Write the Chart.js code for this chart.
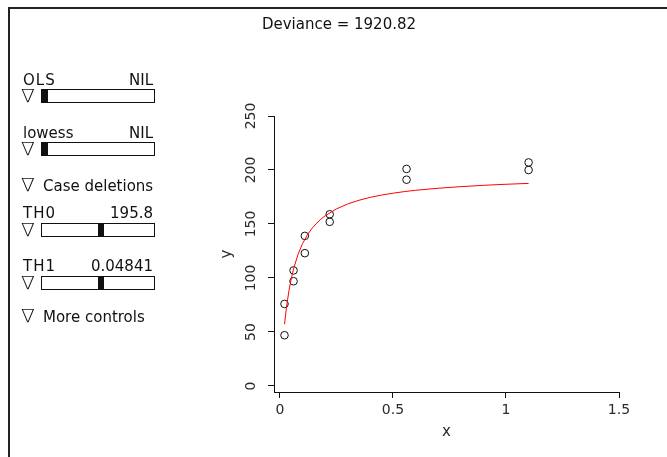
<!DOCTYPE html>
<html>
<head>
<meta charset="utf-8">
<script src="https://cdn.jsdelivr.net/npm/chart.js@4"></script>
<style>
  body { margin: 0; background: #fff; }
  #wrap { position: relative; width: 667px; height: 457px; overflow: hidden; font-family: "DejaVu Sans", sans-serif; color: #111; }
  #myChart { position: absolute; left: 0; top: 0; }
  #frame { position: absolute; left: 8px; top: 7px; width: 700px; height: 500px; border-left: 2px solid #222; border-top: 2px solid #222; }
  .t { position: absolute; font-size: 15px; line-height: 15px; white-space: nowrap; }
  .r { text-align: right; }
  .nab { position: absolute; font-size: 18px; line-height: 18px; font-weight: 200; transform: scaleX(1.12); transform-origin: left top; }
  .slider { position: absolute; left: 41px; width: 112px; height: 12px; border: 1px solid #111; background: #fff; }
  .thumb { position: absolute; top: 0; width: 6px; height: 12px; background: #111; }
</style>
</head>
<body>
<div id="wrap">
  <canvas id="myChart" width="667" height="457"></canvas>
  <div id="frame"></div>

  <!-- title -->
  <div class="t" style="left:0; width:678px; text-align:center; top:17px;">Deviance = 1920.82</div>

  <!-- OLS -->
  <div class="t" style="left:23px; top:73px; letter-spacing:1px;">OLS</div>
  <div class="t r" style="left:100px; width:53px; top:73px;">NIL</div>
  <div class="nab" style="left:21px; top:87px;">∇</div>
  <div class="slider" style="top:89px;"><div class="thumb" style="left:0;"></div></div>

  <!-- lowess -->
  <div class="t" style="left:23px; top:126px;">lowess</div>
  <div class="t r" style="left:100px; width:53px; top:126px;">NIL</div>
  <div class="nab" style="left:21px; top:140px;">∇</div>
  <div class="slider" style="top:142px;"><div class="thumb" style="left:0;"></div></div>

  <div class="nab" style="left:21px; top:176px;">∇</div>
  <div class="t" style="left:43px; top:179px;">Case deletions</div>

  <!-- TH0 -->
  <div class="t" style="left:23px; top:206px; letter-spacing:1px;">TH0</div>
  <div class="t r" style="left:90px; width:63px; top:206px;">195.8</div>
  <div class="nab" style="left:21px; top:221px;">∇</div>
  <div class="slider" style="top:223px;"><div class="thumb" style="left:56px;"></div></div>

  <!-- TH1 -->
  <div class="t" style="left:23px; top:259px; letter-spacing:1px;">TH1</div>
  <div class="t r" style="left:80px; width:73px; top:259px;">0.04841</div>
  <div class="nab" style="left:21px; top:274px;">∇</div>
  <div class="slider" style="top:276px;"><div class="thumb" style="left:56px;"></div></div>

  <div class="nab" style="left:21px; top:307px;">∇</div>
  <div class="t" style="left:43px; top:310px;">More controls</div>
</div>

<script>
// observed points (concentration vs rate)
const obsX = [0.02, 0.02, 0.06, 0.06, 0.11, 0.11, 0.22, 0.22, 0.56, 0.56, 1.10, 1.10];
const obsY = [76, 47, 97, 107, 123, 139, 159, 152, 191, 201, 207, 200];

// fitted curve
const fitX = [0.02, 0.03, 0.04, 0.05, 0.06, 0.08, 0.10, 0.12, 0.14, 0.16, 0.18, 0.20,
              0.25, 0.30, 0.35, 0.40, 0.45, 0.50, 0.55, 0.60, 0.70, 0.80, 0.90, 1.00, 1.10];
const fitY = [57.2, 74.9, 88.6, 99.5, 108.4, 122.0, 131.9, 139.5, 145.5, 150.3, 154.3, 157.6,
              164.0, 168.6, 172.0, 174.7, 176.8, 178.5, 180.0, 181.2, 183.1, 184.6, 185.8, 186.8, 187.6];

// tick labels
const xTicks = [0, 0.5, 1, 1.5];
const yTicks = [0, 50, 100, 150, 200, 250];

const tickFont = { family: 'DejaVu Sans', size: 14 };

const ctx = document.getElementById('myChart').getContext('2d');

const myChart = new Chart(ctx, {
    type: 'scatter',
    data: {
        datasets: [
            {
                label: 'fit',
                type: 'line',
                data: fitX.map((x, i) => ({ x: x, y: fitY[i] })),
                borderColor: '#ff0000',
                borderWidth: 1,
                pointRadius: 0,
                tension: 0,
                fill: false
            },
            {
                label: 'data',
                data: obsX.map((x, i) => ({ x: x, y: obsY[i] })),
                pointStyle: 'circle',
                pointRadius: 3.8,
                borderColor: '#111',
                backgroundColor: 'rgba(0,0,0,0)',
                borderWidth: 1
            }
        ]
    },
    options: {
        responsive: false,
        animation: false,
        layout: { padding: { left: 200, top: 116, right: 48, bottom: 0 } },
        plugins: {
            legend: { display: false },
            tooltip: { enabled: false }
        },
        scales: {
            x: {
                type: 'linear',
                min: -0.0265,
                max: 1.5,
                afterBuildTicks: s => { s.ticks = xTicks.map(v => ({ value: v })); },
                afterFit: s => { s.height = 65; },
                grid: { drawOnChartArea: false, drawTicks: true, tickLength: 6, color: '#111' },
                border: { display: true, color: '#111', width: 1 },
                ticks: { callback: v => String(v), font: tickFont, color: '#2a2a2a', padding: 4, maxRotation: 0, autoSkip: false },
                title: { display: true, text: 'x', font: { family: 'DejaVu Sans', size: 15 }, color: '#2a2a2a', padding: { top: 0, bottom: 16 } }
            },
            y: {
                type: 'linear',
                min: -5.56,
                max: 250,
                afterBuildTicks: s => { s.ticks = yTicks.map(v => ({ value: v })); },
                afterFit: s => { s.width = 74; },
                grid: { drawOnChartArea: false, drawTicks: true, tickLength: 6, color: '#111' },
                border: { display: true, color: '#111', width: 1 },
                ticks: { callback: v => String(v), font: tickFont, color: '#2a2a2a', padding: 3, minRotation: 90, maxRotation: 90, crossAlign: 'center', autoSkip: false },
                title: { display: true, text: 'y', font: { family: 'DejaVu Sans', size: 15 }, color: '#2a2a2a', padding: { top: 18, bottom: 0 } }
            }
        }
    }
});
</script>
</body>
</html>
